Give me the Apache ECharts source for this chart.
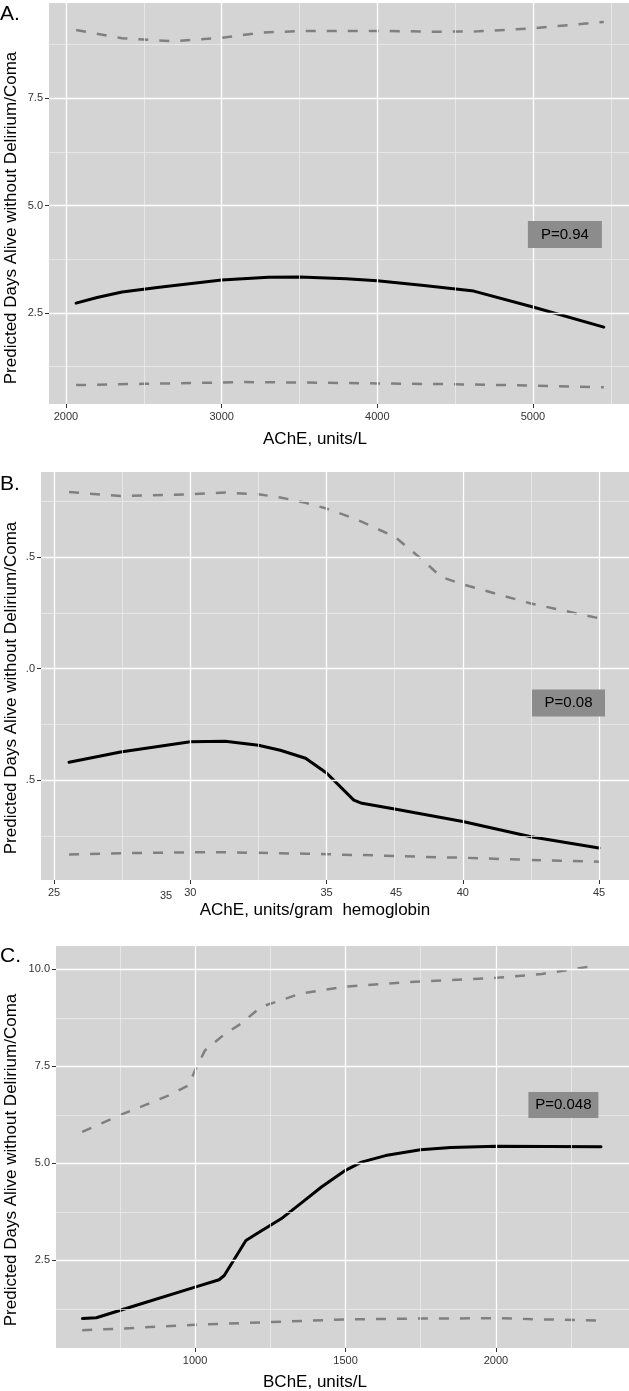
<!DOCTYPE html>
<html><head><meta charset="utf-8">
<script src="https://cdn.jsdelivr.net/npm/echarts@6/dist/echarts.min.js"></script>
<style>html,body{margin:0;padding:0;background:#fff}#c{width:629px;height:1391px}</style>
</head><body><div id="c"></div>
<script>
// ---------- Panel A: AChE, units/L ----------
const aFitX = [2065, 2200, 2360, 2600, 3000, 3300, 3500, 3800, 4000, 4300, 4620, 5000, 5455];
const aFitY = [2.73, 2.86, 2.99, 3.10, 3.27, 3.33, 3.34, 3.30, 3.25, 3.14, 3.01, 2.64, 2.17];
const aUpX  = [2065, 2360, 2680, 3000, 3250, 3530, 4000, 4400, 4650, 5000, 5455];
const aUpY  = [9.09, 8.90, 8.83, 8.91, 9.03, 9.07, 9.07, 9.05, 9.06, 9.13, 9.28];
const aLoX  = [2065, 2500, 3000, 3130, 3500, 4000, 4500, 5000, 5455];
const aLoY  = [0.82, 0.85, 0.88, 0.89, 0.88, 0.86, 0.84, 0.81, 0.77];

// ---------- Panel B: AChE, units/gram hemoglobin ----------
const bX   = [25.55, 27.44, 30, 31.28, 32.5, 33.3, 34.23, 35, 36, 36.3, 37.5, 38.5, 39.2, 40, 42.5, 45];
const bFit = [2.90, 3.13, 3.36, 3.37, 3.28, 3.17, 2.99, 2.66, 2.05, 1.98, 1.85, 1.74, 1.66, 1.57, 1.23, 0.98];
const bUp  = [8.96, 8.87, 8.91, 8.95, 8.91, 8.84, 8.72, 8.59, 8.37, 8.29, 7.96, 7.45, 7.06, 6.89, 6.46, 6.13];
const bLo  = [0.83, 0.86, 0.88, 0.88, 0.87, 0.86, 0.85, 0.84, 0.82, 0.82, 0.80, 0.78, 0.77, 0.76, 0.71, 0.67];

// ---------- Panel C: BChE, units/L ----------
const cFitX = [626, 672, 800, 1000, 1080, 1097, 1169, 1206, 1286, 1360, 1420, 1500, 1553, 1633, 1749, 1850, 2000, 2349];
const cFitY = [1.00, 1.02, 1.33, 1.81, 2.00, 2.11, 3.01, 3.19, 3.57, 4.02, 4.39, 4.82, 5.03, 5.20, 5.35, 5.41, 5.44, 5.43];
const cUpX  = [625, 750, 913, 979, 1000, 1033, 1100, 1153, 1219, 1353, 1500, 1686, 2000, 2153, 2312];
const cUpY  = [5.81, 6.24, 6.75, 7.01, 7.40, 7.91, 8.34, 8.60, 9.03, 9.38, 9.55, 9.66, 9.78, 9.88, 10.07];
const cLoX  = [625, 750, 1000, 1250, 1500, 1749, 2000, 2153, 2349];
const cLoY  = [0.70, 0.74, 0.84, 0.91, 0.98, 1.00, 1.01, 0.98, 0.95];

// ---------- Axes / ticks ----------
const aXTicks = [2000, 3000, 4000, 5000];
const aXMinor = [2500, 3500, 4500, 5500];
const bXTicks = [25, 30, 35, 40, 45];
const bXMinor = [27.5, 32.5, 37.5, 42.5];
const cXTicks = [1000, 1500, 2000];
const cXMinor = [750, 1250, 1750, 2250];
const aYTicks = [2.5, 5.0, 7.5];
const bYTicks = [2.5, 5.0, 7.5];
const cYTicks = [2.5, 5.0, 7.5, 10.0];
const yMinor  = [1.25, 3.75, 6.25, 8.75];

const panelLetters = ['A.', 'B.', 'C.'];
const xTitles = ['AChE, units/L', 'AChE, units/gram  hemoglobin', 'BChE, units/L'];
const yTitle = 'Predicted Days Alive without Delirium/Coma';
const pLabels = ['P=0.94', 'P=0.08', 'P=0.048'];
const pCoords = [[5205, 4.33], [43.88, 4.23], [2224, 6.50]];
const strayLabels = ['35', '45'];

const zip = (xs, ys) => xs.map((x, i) => [x, ys[i]]);
const FONT = "'Liberation Sans', Arial, sans-serif";

const grids = [
  {left: 49, top: 3,   width: 580, height: 401},
  {left: 41, top: 472, width: 588, height: 408},
  {left: 56, top: 946, width: 573, height: 402}
];
const xRanges = [[1891, 5617], [24.52, 46.1], [538, 2442]];
const yRanges = [[0.38, 9.72], [0.26, 9.41], [0.242, 10.6]];
const xTickSets = [aXTicks, bXTicks, cXTicks];
const xMinorSets = [aXMinor, bXMinor, cXMinor];
const yTickSets = [aYTicks, bYTicks, cYTicks];

const chart = echarts.init(document.getElementById('c'), null, {renderer: 'canvas'});

const xAxis = [], yAxis = [], series = [];
for (let i = 0; i < 3; i++) {
  xAxis.push({
    type: 'value', gridIndex: i, min: xRanges[i][0], max: xRanges[i][1],
    axisLine: {show: false},
    axisTick: {show: true, length: 4, customValues: xTickSets[i], lineStyle: {color: '#333', width: 1}},
    axisLabel: {show: true, customValues: xTickSets[i], margin: 7, color: '#333', fontSize: 11, fontFamily: FONT,
      formatter: v => String(Math.round(v))},
    splitLine: {show: false}
  });
  yAxis.push({
    type: 'value', gridIndex: i, min: yRanges[i][0], max: yRanges[i][1],
    axisLine: {show: false},
    axisTick: {show: true, length: 4, customValues: yTickSets[i], lineStyle: {color: '#333', width: 1}},
    axisLabel: {show: true, customValues: yTickSets[i], margin: 6, color: '#333', fontSize: 11, fontFamily: FONT,
      formatter: i === 1 ? (v => v.toFixed(1).slice(1)) : (v => v.toFixed(1))},
    splitLine: {show: false}
  });
  const ml = [];
  xMinorSets[i].forEach(v => { if (v > xRanges[i][0] && v < xRanges[i][1]) ml.push({xAxis: v, lineStyle: {color: '#ececec', width: 0.8, type: 'solid'}}); });
  yMinor.forEach(v => { if (v > yRanges[i][0] && v < yRanges[i][1]) ml.push({yAxis: v, lineStyle: {color: '#ececec', width: 0.8, type: 'solid'}}); });
  xTickSets[i].forEach(v => ml.push({xAxis: v, lineStyle: {color: '#ffffff', width: 1.3, type: 'solid'}}));
  yTickSets[i].forEach(v => ml.push({yAxis: v, lineStyle: {color: '#ffffff', width: 1.3, type: 'solid'}}));
  series.push({
    type: 'line', xAxisIndex: i, yAxisIndex: i, z: 1, silent: true, animation: false,
    data: [[xRanges[i][0], yRanges[i][0]]], symbol: 'none', lineStyle: {opacity: 0},
    markLine: {silent: true, animation: false, symbol: ['none', 'none'], label: {show: false}, data: ml}
  });
}

const panels = [
  {fit: zip(aFitX, aFitY), up: zip(aUpX, aUpY), lo: zip(aLoX, aLoY), box: [74, 27]},
  {fit: zip(bX, bFit), up: zip(bX, bUp), lo: zip(bX, bLo), box: [73, 27]},
  {fit: zip(cFitX, cFitY), up: zip(cUpX, cUpY), lo: zip(cLoX, cLoY), box: [70, 26]}
];
panels.forEach((p, i) => {
  ['up', 'lo'].forEach(k => series.push({
    type: 'line', xAxisIndex: i, yAxisIndex: i, z: 2, data: p[k], symbol: 'none', silent: true, animation: false,
    smooth: false,
    lineStyle: {color: '#808080', width: 2.5, type: [10, 11], cap: 'butt', join: 'round'}
  }));
  series.push({
    type: 'line', xAxisIndex: i, yAxisIndex: i, z: 3, data: p.fit, symbol: 'none', silent: true, animation: false,
    smooth: false,
    lineStyle: {color: '#000', width: 3, join: 'round', cap: 'round'},
    markPoint: {
      silent: true, animation: false, symbol: 'rect', symbolSize: p.box,
      itemStyle: {color: '#8c8c8c'},
      label: {show: true, position: 'inside', formatter: pLabels[i], color: '#000', fontSize: 15, fontFamily: FONT},
      data: [{coord: pCoords[i]}]
    }
  });
});

const graphic = [];
const letterTops = [4, 474, 946];
const titleYs = [439, 910, 1382];
const yTitleCenters = [218, 688, 1160];
for (let i = 0; i < 3; i++) {
  graphic.push({type: 'text', x: 0, y: letterTops[i], style: {text: panelLetters[i], font: '21px ' + FONT, fill: '#000'}});
  graphic.push({type: 'text', x: 315, y: titleYs[i], style: {text: xTitles[i], font: '17px ' + FONT, fill: '#000', align: 'center', verticalAlign: 'middle'}});
  graphic.push({type: 'text', x: 11, y: yTitleCenters[i], rotation: Math.PI / 2, style: {text: yTitle, font: '17px ' + FONT, fill: '#000', align: 'center', verticalAlign: 'middle'}});
}
graphic.push({type: 'text', x: 166, y: 896, style: {text: strayLabels[0], font: '11px ' + FONT, fill: '#333', align: 'center', verticalAlign: 'middle'}});
graphic.push({type: 'text', x: 396, y: 893, style: {text: strayLabels[1], font: '11px ' + FONT, fill: '#333', align: 'center', verticalAlign: 'middle'}});

const option = {
  animation: false,
  backgroundColor: '#ffffff',
  grid: grids.map(g => Object.assign({show: true, backgroundColor: '#d4d4d4', borderWidth: 0, containLabel: false}, g)),
  xAxis, yAxis, series, graphic
};
chart.setOption(option);
</script>
</body></html>
